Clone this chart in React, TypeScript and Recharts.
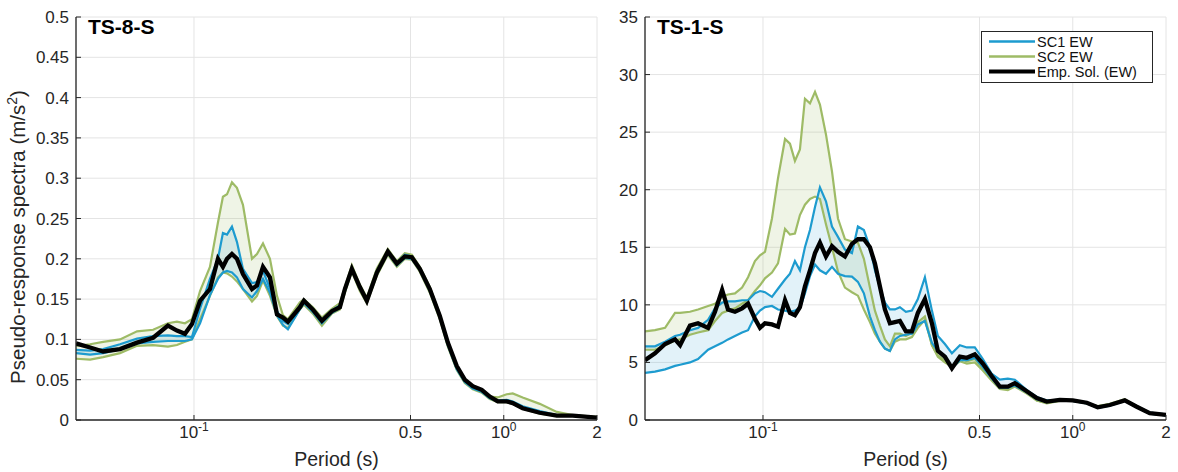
import React from "react";
import { ComposedChart, Area, Line, XAxis, YAxis, CartesianGrid, Legend } from "recharts";

const FONT = '"Liberation Sans", Arial, Helvetica, sans-serif';
const INK = "#262626";
const BLUE = "#1d9bcf";
const GREEN = "#9ebb66";
const GRID = "#e4e4e4";

const periodTicks = [0.1, 0.5, 1, 2];
const leftYTicks = [0, 0.05, 0.1, 0.15, 0.2, 0.25, 0.3, 0.35, 0.4, 0.45, 0.5];
const rightYTicks = [0, 5, 10, 15, 20, 25, 30, 35];
const legendNames = ["SC1 EW", "SC2 EW", "Emp. Sol. (EW)"];

// TS-8-S (left panel)
const leftPeriods = [
  0.0416, 0.0462, 0.0509, 0.0577, 0.0655, 0.0738, 0.0824, 0.0881, 0.0935, 0.0985,
  0.1046, 0.1126, 0.1195, 0.124, 0.1278, 0.1326, 0.1376, 0.1439, 0.1539, 0.1597,
  0.167, 0.1759, 0.1853, 0.1937, 0.201, 0.2198, 0.2264, 0.242, 0.2588, 0.2787,
  0.2958, 0.307, 0.3233, 0.3431, 0.3614, 0.3894, 0.4225, 0.4517, 0.4794, 0.505,
  0.5358, 0.5771, 0.6218, 0.6599, 0.7053, 0.7484, 0.7943, 0.8492, 0.9012, 0.9564,
  1.022, 1.069, 1.151, 1.307, 1.483, 1.67, 2.0,
];
const leftEmp = [
  0.095, 0.09, 0.085, 0.088, 0.096, 0.102, 0.117, 0.111, 0.107, 0.119,
  0.148, 0.1625, 0.2, 0.19, 0.2, 0.206, 0.2, 0.181, 0.1625, 0.167,
  0.19, 0.177, 0.131, 0.127, 0.122, 0.14, 0.148, 0.137, 0.123, 0.135,
  0.14, 0.1625, 0.1875, 0.165, 0.148, 0.183, 0.209, 0.194, 0.203, 0.202,
  0.1875, 0.1625, 0.129, 0.096, 0.067, 0.05, 0.042, 0.0375, 0.029, 0.023,
  0.023, 0.021, 0.0146, 0.009, 0.0054, 0.0054, 0.003,
];
const leftSc1Hi = [
  0.087, 0.086, 0.088, 0.094, 0.101, 0.104, 0.105, 0.104, 0.104, 0.103,
  0.138, 0.175, 0.2, 0.232, 0.23, 0.24, 0.221, 0.1875, 0.17, 0.171,
  0.185, 0.163, 0.135, 0.123, 0.119, 0.142, 0.149, 0.138, 0.124, 0.136,
  0.142, 0.163, 0.189, 0.166, 0.15, 0.185, 0.21, 0.195, 0.205, 0.203,
  0.188, 0.163, 0.13, 0.096, 0.066, 0.049, 0.041, 0.036, 0.028, 0.024,
  0.025, 0.023, 0.017, 0.011, 0.006, 0.006, 0.003,
];
const leftSc1Lo = [
  0.083, 0.081, 0.083, 0.088, 0.095, 0.097, 0.098, 0.098, 0.098, 0.1,
  0.12, 0.155, 0.175, 0.183, 0.185, 0.183, 0.177, 0.1625, 0.152, 0.16,
  0.175, 0.158, 0.13, 0.118, 0.1125, 0.1375, 0.145, 0.134, 0.12, 0.133,
  0.139, 0.16, 0.186, 0.163, 0.147, 0.181, 0.207, 0.192, 0.201, 0.2,
  0.186, 0.16, 0.127, 0.093, 0.063, 0.047, 0.039, 0.035, 0.027, 0.023,
  0.023, 0.021, 0.015, 0.009, 0.005, 0.005, 0.003,
];
const leftSc2Hi = [
  0.092, 0.094, 0.097, 0.1, 0.11, 0.112, 0.12, 0.122, 0.12, 0.125,
  0.16, 0.19, 0.245, 0.277, 0.28, 0.295, 0.288, 0.267, 0.2, 0.206,
  0.219, 0.2, 0.154, 0.13, 0.125, 0.146, 0.15, 0.14, 0.127, 0.138,
  0.145, 0.165, 0.192, 0.168, 0.152, 0.188, 0.212, 0.197, 0.207, 0.205,
  0.19, 0.165, 0.131, 0.097, 0.066, 0.049, 0.041, 0.037, 0.029, 0.028,
  0.032, 0.033, 0.028, 0.02, 0.01, 0.006, 0.004,
];
const leftSc2Lo = [
  0.076, 0.075, 0.078, 0.083, 0.092, 0.093, 0.091, 0.093, 0.097, 0.1,
  0.125, 0.154, 0.177, 0.183, 0.182, 0.178, 0.172, 0.1625, 0.147, 0.154,
  0.173, 0.154, 0.129, 0.117, 0.114, 0.1375, 0.143, 0.132, 0.117, 0.132,
  0.137, 0.158, 0.184, 0.16, 0.145, 0.179, 0.205, 0.19, 0.2, 0.199,
  0.184, 0.158, 0.125, 0.091, 0.062, 0.046, 0.038, 0.034, 0.026, 0.022,
  0.022, 0.02, 0.014, 0.008, 0.005, 0.005, 0.003,
];

// TS-1-S (right panel)
const rightPeriods = [
  0.0416, 0.0448, 0.0483, 0.052, 0.054, 0.0581, 0.0617, 0.0665, 0.07, 0.0738,
  0.0771, 0.0812, 0.0856, 0.0895, 0.0942, 0.0978, 0.1015, 0.1069, 0.1118, 0.1178,
  0.1222, 0.1268, 0.1316, 0.1366, 0.1418, 0.1472, 0.1527, 0.1597, 0.167, 0.1746,
  0.1839, 0.1937, 0.2025, 0.2117, 0.2214, 0.2298, 0.2385, 0.2475, 0.2569, 0.2666,
  0.2767, 0.2893, 0.3025, 0.3162, 0.3332, 0.351, 0.3669, 0.3866, 0.4072, 0.4321,
  0.4551, 0.4829, 0.5126, 0.548, 0.5815, 0.6172, 0.6501, 0.7107, 0.7654, 0.8245,
  0.9081, 1.0, 1.11, 1.204, 1.317, 1.472, 1.609, 1.772, 2.0,
];
const rightEmp = [
  5.2, 5.8, 6.6, 7.0, 6.5, 8.2, 8.4, 8.0, 9.4, 11.3,
  9.6, 9.4, 9.7, 10.1, 8.8, 8.0, 8.4, 8.3, 8.1, 10.4,
  9.3, 9.1, 9.8, 11.6, 13.0, 14.5, 15.4, 14.2, 15.1, 14.6,
  14.2, 15.3, 15.7, 15.7, 15.0, 13.6, 11.6, 9.6, 8.4, 8.5,
  8.6, 7.7, 7.7, 9.3, 10.5, 8.4, 6.0, 5.5, 4.5, 5.5,
  5.4, 5.7, 4.9, 3.8, 2.9, 2.9, 3.2, 2.5, 1.9, 1.6,
  1.75, 1.7, 1.5, 1.1, 1.3, 1.7, 1.15, 0.6, 0.45,
];
const rightSc1Hi = [
  6.4, 6.4, 6.8, 7.3, 7.4, 7.8, 8.0, 8.7, 9.7, 10.2,
  10.3, 10.3, 10.4, 10.4, 11.0, 11.2, 11.1, 10.7, 11.4, 12.2,
  12.7, 13.8, 13.0, 15.0, 16.5, 18.5, 20.2, 19.0, 16.8, 15.9,
  14.8, 14.5, 16.8, 16.5, 15.0, 13.0, 11.5, 10.2, 9.6, 9.6,
  9.8, 9.4, 9.5, 10.5, 12.4, 9.5, 7.3, 6.6, 5.8, 6.5,
  6.3, 6.3, 5.3, 4.0, 3.5, 3.6, 3.5, 2.6, 2.0, 1.7,
  1.75, 1.7, 1.5, 1.15, 1.35, 1.75, 1.2, 0.65, 0.5,
];
const rightSc1Lo = [
  4.1, 4.2, 4.4, 4.7, 4.8, 5.0, 5.3, 6.1, 6.4, 6.7,
  7.0, 7.3, 7.6, 7.8, 9.0, 9.5, 9.8, 9.9, 9.6, 9.5,
  9.4, 9.5, 9.7, 11.0, 12.5, 13.5, 13.0, 12.7, 13.3, 12.7,
  12.5, 12.45, 12.0, 11.0, 9.0, 7.8, 6.8, 6.2, 6.0, 7.0,
  7.3, 7.4, 7.5, 8.3, 8.6, 6.7, 6.0, 5.4, 4.5, 5.2,
  5.2, 5.4, 4.6, 3.6, 2.8, 2.8, 3.0, 2.4, 1.8, 1.55,
  1.7, 1.65, 1.45, 1.05, 1.25, 1.65, 1.1, 0.55, 0.4,
];
const rightSc2Hi = [
  7.7, 7.8, 8.0, 9.3, 9.3, 9.4, 9.6, 9.9, 10.1, 10.7,
  10.9, 11.0, 11.5, 12.4, 13.8, 14.3, 14.6, 17.5, 21.0, 24.4,
  24.0, 22.5, 23.5, 27.9, 27.5, 28.5, 27.4, 24.8, 21.6, 17.5,
  15.7, 15.5, 15.4, 14.0, 11.5, 9.5, 8.2, 7.0, 6.4, 7.5,
  7.5, 7.3, 7.6, 8.5, 9.0, 6.5, 5.6, 5.2, 4.6, 5.4,
  5.1, 5.3, 4.5, 3.6, 2.8, 2.8, 3.0, 2.4, 1.7, 1.5,
  1.7, 1.7, 1.5, 1.2, 1.4, 1.8, 1.2, 0.6, 0.45,
];
const rightSc2Lo = [
  6.1, 6.1, 6.5, 6.9, 7.0, 7.4, 7.6, 7.8, 8.6, 9.3,
  9.5, 9.7, 10.1, 10.4, 11.2, 11.7, 12.3, 12.8, 13.6, 16.6,
  16.1, 16.2, 17.8, 18.7, 19.2, 19.4, 19.2, 17.0, 15.0, 12.9,
  11.5, 11.1, 10.8, 9.6, 8.5, 7.5, 6.8, 6.2, 6.0, 6.8,
  7.0, 7.0, 7.2, 8.0, 8.7, 6.5, 5.5, 5.0, 4.6, 5.1,
  4.9, 5.0, 4.3, 3.4, 2.7, 2.6, 2.9, 2.3, 1.7, 1.45,
  1.65, 1.65, 1.45, 1.1, 1.35, 1.75, 1.15, 0.55, 0.45,
];

function buildRows(
  periods: number[],
  emp: number[],
  sc1Lo: number[],
  sc1Hi: number[],
  sc2Lo: number[],
  sc2Hi: number[]
) {
  return periods.map((t, i) => ({
    t,
    emp: emp[i],
    sc1Lo: sc1Lo[i],
    sc1Hi: sc1Hi[i],
    sc2Lo: sc2Lo[i],
    sc2Hi: sc2Hi[i],
    sc1Band: [sc1Lo[i], sc1Hi[i]],
    sc2Band: [sc2Lo[i], sc2Hi[i]],
  }));
}

const leftRows = buildRows(leftPeriods, leftEmp, leftSc1Lo, leftSc1Hi, leftSc2Lo, leftSc2Hi);
const rightRows = buildRows(rightPeriods, rightEmp, rightSc1Lo, rightSc1Hi, rightSc2Lo, rightSc2Hi);

function PeriodTick({ x, y, payload }: any) {
  const v = payload.value;
  const exp = v === 0.1 ? "-1" : v === 1 ? "0" : null;
  return (
    <text x={x} y={y} dy="0.71em" textAnchor="middle" fontSize={17} fill={INK} fontFamily={FONT}>
      {exp ? (
        <>
          <tspan>10</tspan>
          <tspan fontSize={12} dy={-7}>{exp}</tspan>
        </>
      ) : (
        String(v)
      )}
    </text>
  );
}

function LegendBox() {
  const items = [
    { name: legendNames[0], color: BLUE, w: 2.4 },
    { name: legendNames[1], color: GREEN, w: 2.4 },
    { name: legendNames[2], color: "#000", w: 4 },
  ];
  return (
    <svg width={172} height={52} style={{ display: "block" }}>
      <rect x={0.5} y={0.5} width={171} height={51} fill="#fff" stroke={INK} strokeWidth={1} />
      {items.map((it, i) => (
        <g key={it.name}>
          <line x1={8} x2={54} y1={10.5 + i * 15} y2={10.5 + i * 15} stroke={it.color} strokeWidth={it.w} />
          <text x={56} y={10.5 + i * 15} dy="0.36em" fontSize={14.5} fill="#111" fontFamily={FONT}>
            {it.name}
          </text>
        </g>
      ))}
    </svg>
  );
}

type PanelProps = {
  rows: any[];
  yMax: number;
  yTicks: number[];
  title: string;
  width: number;
  yAxisWidth: number;
  marginRight: number;
  showYLabel?: boolean;
  showLegend?: boolean;
  legendLeft?: number;
};

function Panel({ rows, yMax, yTicks, title, width, yAxisWidth, marginRight, showYLabel, showLegend, legendLeft }: PanelProps) {
  const yAxisLabel = (p: any) => {
    const vb = p.viewBox || {};
    const plotLeft = (vb.x || 0) + (vb.width || 0);
    return (
      <g>
        <text x={plotLeft + 12} y={34} fontSize={21} fontWeight="bold" fill="#000" fontFamily={FONT}>
          {title}
        </text>
        {showYLabel && (
          <text
            transform="rotate(-90)"
            x={-237}
            y={25}
            textAnchor="middle"
            fontSize={20.5}
            fill={INK}
            fontFamily={FONT}
          >
            Pseudo-response spectra (m/s
            <tspan fontSize={14} dy={-8}>2</tspan>
            <tspan dy={8}>)</tspan>
          </text>
        )}
      </g>
    );
  };
  const xAxisLabel = (p: any) => {
    const vb = p.viewBox || {};
    return (
      <text x={(vb.x || 0) + (vb.width || 0) / 2} y={466} textAnchor="middle" fontSize={19.5} fill={INK} fontFamily={FONT}>
        Period (s)
      </text>
    );
  };
  return (
    <ComposedChart width={width} height={472} data={rows} margin={{ top: 17, right: marginRight, bottom: 0, left: 0 }}>
      <CartesianGrid stroke={GRID} strokeWidth={1} />
      <XAxis
        dataKey="t"
        type="number"
        scale="log"
        domain={[0.0416, 2]}
        allowDataOverflow
        ticks={periodTicks}
        interval={0}
        height={52}
        tickSize={-5}
        tickMargin={11}
        tick={<PeriodTick />}
        axisLine={{ stroke: INK, strokeWidth: 1.3 }}
        tickLine={{ stroke: INK }}
        label={xAxisLabel}
      />
      <YAxis
        type="number"
        domain={[0, yMax]}
        allowDataOverflow
        ticks={yTicks}
        interval={0}
        width={yAxisWidth}
        tickSize={-5}
        tickMargin={12}
        tick={{ fontSize: 17, fill: INK, fontFamily: FONT }}
        axisLine={{ stroke: INK, strokeWidth: 1.3 }}
        tickLine={{ stroke: INK }}
        label={yAxisLabel}
      />
      <Area dataKey="sc2Band" type="linear" stroke="none" fill={GREEN} fillOpacity={0.16} isAnimationActive={false} legendType="none" />
      <Area dataKey="sc1Band" type="linear" stroke="none" fill={BLUE} fillOpacity={0.13} isAnimationActive={false} legendType="none" />
      <Line dataKey="sc2Lo" stroke={GREEN} strokeWidth={2.2} dot={false} activeDot={false} isAnimationActive={false} />
      <Line dataKey="sc2Hi" stroke={GREEN} strokeWidth={2.2} dot={false} activeDot={false} isAnimationActive={false} />
      <Line dataKey="sc1Lo" stroke={BLUE} strokeWidth={2.2} dot={false} activeDot={false} isAnimationActive={false} />
      <Line dataKey="sc1Hi" stroke={BLUE} strokeWidth={2.2} dot={false} activeDot={false} isAnimationActive={false} />
      <Line dataKey="emp" stroke="#000" strokeWidth={4.3} dot={false} activeDot={false} isAnimationActive={false} />
      {showLegend && (
        <Legend
          layout="vertical"
          align="center"
          verticalAlign="middle"
          wrapperStyle={{ left: legendLeft, top: 31, width: 172, height: 52 }}
          content={() => <LegendBox />}
        />
      )}
    </ComposedChart>
  );
}

export default function App() {
  return (
    <div style={{ position: "absolute", left: 0, top: 0, width: 1178, height: 472, background: "#fff" }}>
      <div style={{ position: "absolute", left: 0, top: 0 }}>
        <Panel
          rows={leftRows}
          yMax={0.5}
          yTicks={leftYTicks}
          title="TS-8-S"
          width={612}
          yAxisWidth={76}
          marginRight={15}
          showYLabel
        />
      </div>
      <div style={{ position: "absolute", left: 578, top: 0 }}>
        <Panel
          rows={rightRows}
          yMax={35}
          yTicks={rightYTicks}
          title="TS-1-S"
          width={600}
          yAxisWidth={67}
          marginRight={12}
          showLegend
          legendLeft={403}
        />
      </div>
    </div>
  );
}
